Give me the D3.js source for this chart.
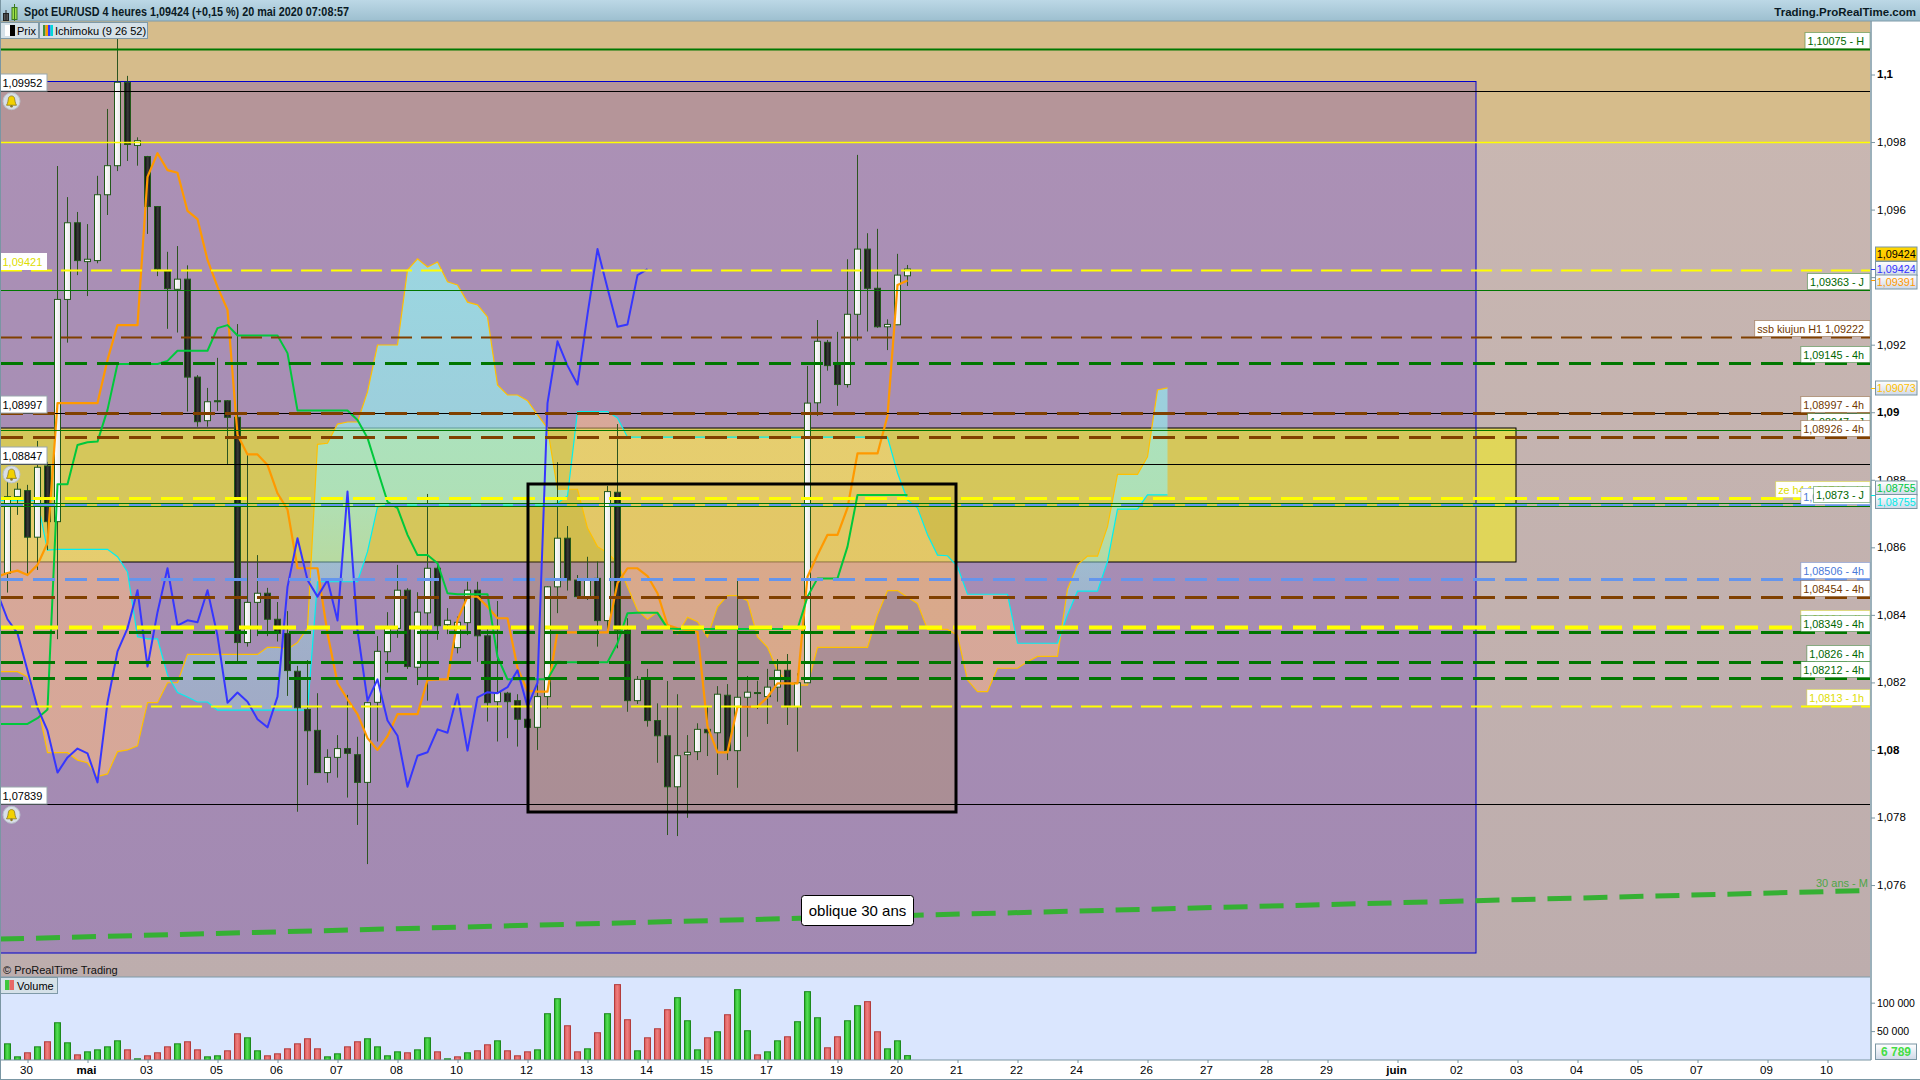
<!DOCTYPE html>
<html><head><meta charset="utf-8"><script src="https://cdn.jsdelivr.net/npm/d3@7"></script>
<style>html,body{margin:0;background:#fff}svg{display:block}text{font-family:"Liberation Sans",Arial,sans-serif}</style></head>
<body><svg id="c" width="1920" height="1080"></svg>
<script>
// all prices in 1/100000 units
const opens=[108523,108750,108768,108630,108841,108676,109334,109561,109446,109449,109644,109730,109977,109790,109757,109609,109418,109364,109394,109104,108975,109034,109034,108985,108318,108437,108464,108387,108345,108233,108120,108058,107933,107978,108004,107986,107904,108141,108291,108360,108473,108245,108406,108538,108371,108303,108377,108473,108338,108143,108168,108146,108091,108067,108158,108483,108627,108503,108454,108508,108383,108763,108355,108146,108209,108087,108042,107891,107986,107995,108061,108051,108162,107998,108156,108170,108158,108186,108236,108128,108199,109028,109207,109145,109082,109290,109483,109367,109253,109259,109404];
const closes=[108750,108772,108630,108837,108676,109334,109561,109449,109453,109644,109730,109977,109793,109804,109609,109424,109366,109394,109104,108972,109031,109032,108985,108318,108437,108464,108387,108345,108235,108125,108057,107933,107978,108004,107990,107904,108140,108292,108360,108473,108247,108408,108538,108368,108384,108378,108473,108338,108140,108170,108143,108091,108067,108158,108483,108627,108503,108454,108503,108383,108765,108355,108146,108209,108087,108042,107891,107983,107993,108061,108051,108165,107998,108156,108171,108168,108186,108236,108128,108199,109027,109210,109138,109082,109290,109483,109367,109253,109260,109406,109424];
const highs=[108793,108791,108785,108915,108853,109729,109637,109593,109557,109700,109898,110108,109996,109814,109759,109610,109475,109492,109435,109110,109072,109161,109036,109261,108873,108577,108480,108438,108411,108249,108266,108168,108002,108044,108163,108039,108142,108337,108408,108548,108479,108467,108758,108554,108420,108395,108498,108498,108367,108441,108172,108165,108118,108207,108485,108852,108663,108518,108572,108558,108782,108965,108390,108219,108240,108138,108204,108165,108044,108079,108128,108189,108195,108501,108219,108205,108240,108269,108284,108227,109137,109273,109214,109238,109453,109762,109530,109543,109275,109469,109436];
const lows=[108466,108696,108515,108533,108592,108328,109206,109406,109344,109441,109584,109714,109744,109730,109528,109403,109247,109236,109002,108957,108957,109004,108846,108261,108306,108337,108337,108321,108160,107817,107896,107932,107903,107918,107859,107778,107662,108025,108229,108332,108240,108192,108146,108326,108343,108286,108340,108261,108084,108025,108035,108010,108066,108000,108123,108405,108472,108453,108444,108306,108355,108301,108113,108136,108069,107962,107748,107745,107799,107970,107982,107926,107970,107888,108039,108121,108077,108143,108074,107995,108198,108989,109123,109019,109073,109212,109239,109250,109184,109258,109374];
// ichimoku series: first element is the bar just left of the first candle
const tenkan=[108513,108524,108531,108518,108548,108613,109027,109027,109027,109027,109027,109155,109258,109258,109258,109697,109767,109717,109709,109596,109572,109451,109371,109303,108933,108875,108875,108844,108760,108712,108538,108538,108538,108345,108198,108150,108106,108035,108000,108041,108106,108106,108106,108207,108209,108209,108385,108454,108454,108424,108390,108390,108243,108175,108173,108173,108350,108348,108348,108348,108348,108348,108494,108538,108538,108515,108464,108370,108360,108355,108350,108069,107993,107993,108128,108128,108128,108156,108197,108197,108197,108513,108577,108637,108637,108717,108878,108878,108878,108989,109377,109390];
const kijun=[108077,108077,108077,108077,108094,108120,108787,108787,108903,108911,108913,109007,109143,109143,109143,109143,109143,109152,109182,109182,109182,109182,109249,109258,109227,109227,109227,109227,109227,109175,109005,109005,109005,109005,109005,109005,108977,108924,108829,108735,108716,108637,108577,108577,108553,108464,108461,108461,108461,108461,108276,108209,108209,108209,108209,108209,108261,108260,108260,108260,108260,108260,108316,108405,108406,108406,108406,108360,108358,108358,108358,108358,108358,108358,108358,108358,108358,108358,108358,108358,108358,108454,108508,108508,108508,108602,108755,108755,108755,108755,108755,108755];
const chikou=[108464,108387,108345,108235,108125,108057,107933,107978,108004,107990,107904,108140,108292,108360,108473,108247,108408,108538,108368,108384,108378,108473,108338,108140,108170,108143,108091,108067,108158,108483,108627,108503,108454,108503,108383,108765,108355,108146,108209,108087,108042,107891,107983,107993,108061,108051,108165,107998,108156,108171,108168,108186,108236,108128,108199,109027,109210,109138,109082,109290,109483,109367,109253,109260,109406,109424];
const ssa=[108232,108232,108232,108217,108138,107992,107992,107992,107970,107962,107921,107929,107995,108000,108012,108140,108140,108199,108199,108283,108283,108283,108283,108283,108283,108283,108283,108304,108304,108298,108318,108361,108905,108908,108965,108971,108971,109060,109199,109199,109199,109421,109454,109430,109445,109386,109377,109326,109318,109282,109081,109051,109051,109034,108992,108953,108772,108772,108772,108657,108602,108584,108554,108483,108414,108387,108409,108370,108343,108393,108380,108335,108424,108457,108457,108442,108335,108304,108235,108197,108192,108192,108304,108304,108304,108304,108304,108304,108400,108472,108472,108452,108434,108357,108357,108357,108340,108207,108173,108173,108242,108242,108242,108261,108277,108277,108277,108476,108548,108574,108574,108661,108816,108816,108816,108868,109066,109072];
const ssb=[108738,108738,108738,108738,108738,108592,108594,108594,108594,108594,108594,108594,108572,108527,108335,108329,108329,108222,108170,108157,108142,108142,108118,108118,108118,108118,108118,108118,108118,108118,108118,108118,108498,108498,108498,108498,108498,108587,108720,108725,108725,108725,108725,108725,108725,108725,108725,108725,108725,108725,108725,108725,108725,108725,108725,108725,108731,108752,109002,109002,109002,109002,108983,108926,108926,108926,108926,108926,108926,108926,108926,108926,108926,108926,108926,108926,108926,108926,108926,108926,108926,108926,108926,108926,108926,108926,108926,108926,108926,108926,108820,108740,108716,108637,108577,108575,108543,108461,108461,108461,108461,108461,108316,108316,108316,108316,108316,108400,108470,108470,108470,108558,108713,108713,108713,108755,108755,108755];
const volumes=[27600,4700,11800,22300,31200,64700,29400,8200,13500,17000,22300,32900,17000,1200,6500,11800,22300,27600,31200,17000,4700,6500,15300,45300,38200,15300,6500,10000,18800,27600,36500,18800,4700,10000,22300,31200,36500,22300,6500,13500,11800,17000,38200,13500,1200,4700,11800,15300,25900,32900,15300,6500,13500,17000,80600,107000,59400,13500,18800,47100,80600,131800,70000,15300,38200,54100,87600,108800,68200,17000,38200,48800,78800,122900,50600,8200,13500,32900,40000,66500,119400,73500,20600,40000,68200,94700,101800,48800,18800,32900,6789];
const volumeUp=[1,1,0,1,0,1,1,0,1,1,1,1,0,1,0,0,0,1,0,0,1,1,0,0,1,1,0,0,0,0,0,0,1,1,0,0,1,1,1,1,0,1,1,0,1,0,1,0,0,1,0,0,0,1,1,1,0,0,1,0,1,0,0,1,0,0,0,1,1,1,0,1,0,1,1,0,1,1,0,1,1,1,0,0,1,1,0,0,1,1,1];
const priceTicks=[1.1,1.098,1.096,1.094,1.092,1.09,1.088,1.086,1.084,1.082,1.08,1.078,1.076];
const majorTicks=[1.1,1.09,1.08];
const dateLabels=["30","mai","03","05","06","07","08","10","12","13","14","15","17","19","20","21","22","24","26","27","28","29","juin","02","03","04","05","07","09","10"];
const dateBars=[2,8,14,21,27,33,39,45,52,58,64,70,76,83,89,95,101,107,114,120,126,132,139,145,151,157,163,169,176,182];
const volumeTicks=[50000,100000];
const levelValues=[1.09799,1.09952,1.08847,1.07839,1.08997,1.10075,1.09421,1.09363,1.09222,1.09145,1.08997,1.08947,1.08926,1.08746,1.08726,1.0873,1.08722,1.08506,1.08454,1.08364,1.08349,1.0826,1.08212,1.0813];
const levelKinds=["yellowThin","black","black","black","black","greenBold","yellowMid","greenThin","brownMid","greenDash","brownDash","greenThin","brownDash","yellowDash","blueDash","greenThin","greenThin","blueDash","brownDash","yellowBold","greenDash","greenDash","greenDash","yellowMid"];
const levelTexts=[null,null,null,null,null,"1,10075 - H",null,"1,09363 - J","ssb kiujun H1 1,09222","1,09145 - 4h","1,08997 - 4h","1,08947 - J","1,08926 - 4h","ze h4 1,08746 - H","1,08726 - 4h","1,0873 - J",null,"1,08506 - 4h","1,08454 - 4h","1,08364 - 4h","1,08349 - 4h","1,0826 - 4h","1,08212 - 4h","1,0813 - 1h"];
const leftValues=[1.09952,1.09421,1.08997,1.08847,1.07839];
const leftTexts=["1,09952","1,09421","1,08997","1,08847","1,07839"];
const bellValues=[1.09952,1.08847,1.07839];
const obliqueValues=[1.0744,1.07584]; // at the left edge and right edge of the panel
const rightValues=[1.09424,1.09424,1.09391,1.09073,1.08755,1.08755];
const rightTexts=["1,09424","1,09424","1,09391","1,09073","1,08755","1,08755"];

const kinds={yellowThin:{c:"#ffff00",w:1.5},black:{c:"#000",w:1},greenBold:{c:"#007700",w:2},greenThin:{c:"#007700",w:1},
 yellowMid:{c:"#ffff00",w:2,d:"21 9",t:"#dddd00"},brownMid:{c:"#804000",w:2,d:"21 9",t:"#703800"},greenDash:{c:"#007700",w:3,d:"22 10",t:"#006600"},
 brownDash:{c:"#804000",w:3,d:"22 10",t:"#703800"},yellowDash:{c:"#ffff00",w:3,d:"22 10",t:"#dddd00"},blueDash:{c:"#6495ed",w:3,d:"22 10",t:"#4a78d8"},
 yellowBold:{c:"#ffff00",w:4,d:"23 11",t:"#dddd00"}};

const W=1870,panelTop=21,panelBottom=977,volTop=977,volBottom=1060;
const x=d3.scaleLinear().domain([0,1]).range([7.5,17.5]);
const y=d3.scaleLinear().domain([1.1,1.078]).range([74.5,817.5]);
const P=v=>v/1e5;
const vy=d3.scaleLinear().domain([0,100000]).range([1059.5,1002.7]);
const svg=d3.select("#c");
const defs=svg.append("defs");
function grad(id,stops,horizontal,user){const g=defs.append("linearGradient").attr("id",id);
 if(horizontal){g.attr("x1",0).attr("x2",1).attr("y1",0).attr("y2",0)}else if(user){g.attr("gradientUnits","userSpaceOnUse").attr("x1",0).attr("x2",0).attr("y1",user[0]).attr("y2",user[1])}else{g.attr("x1",0).attr("x2",0).attr("y1",0).attr("y2",1)}
 stops.forEach(s=>g.append("stop").attr("offset",s[0]).attr("stop-color",s[1]).attr("stop-opacity",s[2]==null?1:s[2]));}
grad("bar",[[0,"#bcd8e6"],[1,"#9dbfcf"]]);
grad("base",[[0,"#cab8b2"],[1,"#bdadad"]]);
grad("blk",[[0,"#0a0a0a"],[.55,"#3c3c3c"],[1,"#111"]],true);
grad("wht",[[0,"#ffffff"],[1,"#e8e8e8"]],true);
grad("gvol",[[0,"#22aa22"],[.45,"#55e055"],[1,"#22b022"]],true);
grad("rvol",[[0,"#d85555"],[.45,"#f08080"],[1,"#d85555"]],true);
grad("lbl",[[0,"#ffffff"],[1,"#cfd9e8"]]);
grad("gold",[[0,"#ffd800"],[1,"#ffc400"]]);
grad("bluecloud",[[0,"#96f0f0",.72],[.45,"#96f0f0",.62],[.68,"#96f0f0",.42],[.85,"#96f0f0",.34],[1,"#96f0f0",.3]],false,[300,720]);
grad("pinkcloud",[[0,"#ffbe82",.55],[.0001,"#ffd78c",.4],[.9999,"#ffd78c",.4],[1,"#ffbe82",.55]],false,[428,562]);
defs.append("clipPath").attr("id","clip").append("rect").attr("x",0).attr("y",panelTop).attr("width",W).attr("height",panelBottom-panelTop);
const root=svg.append("g");

// panel backgrounds
root.append("rect").attr("x",0).attr("y",panelTop).attr("width",W).attr("height",panelBottom-panelTop).attr("fill","url(#base)");
root.append("rect").attr("x",0).attr("y",panelTop).attr("width",W).attr("height",y(1.09799)-panelTop).attr("fill","#d6bc8b");
const main=root.append("g").attr("clip-path","url(#clip)");
main.append("rect").attr("x",0).attr("y",81.5).attr("width",1476).attr("height",871.5).attr("fill","rgb(85,32,196)").attr("fill-opacity",.25);
main.append("rect").attr("x",-2).attr("y",428).attr("width",1518).attr("height",134).attr("fill","rgb(243,237,32)").attr("fill-opacity",.6);
main.append("rect").attr("x",-2).attr("y",428).attr("width",1518).attr("height",134).attr("fill","none").attr("stroke","#000").attr("stroke-width",1);
main.append("rect").attr("x",528).attr("y",484).attr("width",428).attr("height",328).attr("fill","rgb(196,155,30)").attr("fill-opacity",.2);
main.append("rect").attr("x",0).attr("y",81.5).attr("width",1476).attr("height",871.5).attr("fill","none").attr("stroke","#0000cc").attr("stroke-width",1);

// cloud, split at crossings
let pts=[];
ssa.forEach((a,i)=>{const b=ssb[i],k=i-1;pts.push({k,a,b});
 if(i<ssa.length-1){const d0=a-b,d1=ssa[i+1]-ssb[i+1];if(d0*d1<0){const t=d0/(d0-d1);pts.push({k:k+t,a:a+t*(ssa[i+1]-a),b:b+t*(ssb[i+1]-b)});}}});
const area=(f0,f1)=>d3.area().x(d=>x(d.k)).y0(d=>y(P(f0(d)))).y1(d=>y(P(f1(d))));
main.append("path").attr("d",area(d=>d.b,d=>Math.max(d.a,d.b))(pts)).attr("fill","url(#bluecloud)");
main.append("path").attr("d",area(d=>d.a,d=>Math.max(d.a,d.b))(pts)).attr("fill","url(#pinkcloud)");
const ln=arr=>d3.line().x((d,i)=>x(i-1)).y(d=>y(P(d)))(arr);
main.append("path").attr("d",ln(ssa)).attr("fill","none").attr("stroke","#ffc000").attr("stroke-width",1.2);
main.append("path").attr("d",ln(ssb)).attr("fill","none").attr("stroke","#00f0f0").attr("stroke-width",1.2);

// candles
const cg=main.append("g");
opens.forEach((o,i)=>{const c=closes[i],up=c>=o,cx=Math.floor(x(i))+.5;
 cg.append("line").attr("x1",cx).attr("x2",cx).attr("y1",y(P(highs[i]))).attr("y2",y(P(lows[i]))).attr("stroke","#2c5520").attr("stroke-width",1);
 const t=y(P(Math.max(o,c))),b=y(P(Math.min(o,c)));
 cg.append("rect").attr("x",cx-3).attr("y",t).attr("width",6).attr("height",Math.max(b-t,1)).attr("fill",up?"url(#wht)":"url(#blk)").attr("stroke","#22591a").attr("stroke-width",1);
});

// ichimoku lines
[[tenkan,"#ff9900",2.2],[kijun,"#00c83c",2],[chikou,"#3636ff",2]].forEach(s=>main.append("path").attr("d",ln(s[0])).attr("fill","none").attr("stroke",s[1]).attr("stroke-width",s[2]).attr("stroke-linejoin","round"));

// horizontal levels
levelValues.forEach((v,i)=>{const s=kinds[levelKinds[i]],yy=Math.round(y(v))+.5;
 main.append("line").attr("x1",1).attr("x2",W).attr("y1",yy).attr("y2",yy).attr("stroke",s.c).attr("stroke-width",s.w).attr("stroke-dasharray",s.d||null);});

// oblique
const ob=d3.scaleLinear().domain([0,1]).range([0,W]);
main.append("line").attr("x1",ob(0)).attr("x2",ob(1)).attr("y1",y(obliqueValues[0])).attr("y2",y(obliqueValues[1])).attr("stroke","#35b033").attr("stroke-width",5).attr("stroke-dasharray","24 12");
main.append("text").attr("x",1816).attr("y",887).attr("font-size",11).attr("fill","#4fa548").text("30 ans - M");
main.append("rect").attr("x",528).attr("y",484).attr("width",428).attr("height",328).attr("fill","none").attr("stroke","#000").attr("stroke-width",3);
root.append("rect").attr("x",801.5).attr("y",895.5).attr("width",112).attr("height",30).attr("rx",3).attr("fill","#fff").attr("stroke","#000");
root.append("text").attr("x",857.5).attr("y",915.5).attr("text-anchor","middle").attr("font-size",15).text("oblique 30 ans");

// level labels
levelTexts.forEach((t,i)=>{if(!t)return;const s=kinds[levelKinds[i]],c=s.t||"#006600",yb=Math.round(y(levelValues[i]));
 const g=root.append("g");const r=g.append("rect").attr("fill","#fff").attr("stroke",c).attr("stroke-opacity",.4);
 const tx=g.append("text").attr("font-size",10.8).attr("fill",c).text(t);const w=tx.node().getComputedTextLength();
 tx.attr("x",W-w-6).attr("y",yb-4);r.attr("x",W-w-8.5).attr("y",yb-16.5).attr("width",w+8.5).attr("height",16);});

// left labels
leftTexts.forEach((t,i)=>{const yb=Math.round(y(leftValues[i]));const g=root.append("g");
 g.append("rect").attr("x",0).attr("y",yb-17).attr("width",47).attr("height",17).attr("fill","#fff").attr("stroke","#9aa7ae").attr("stroke-width",t==="1,09421"?0:1);
 g.append("text").attr("x",2.5).attr("y",yb-4).attr("font-size",11).attr("fill",t==="1,09421"?"#dddd00":"#000").text(t);});
// bells
bellValues.forEach(v=>{const g=root.append("g").attr("transform",`translate(11.5,${y(v)+10.5})`);
 g.append("circle").attr("r",8.5).attr("fill","#d8dee6").attr("stroke","#b8c2cc");
 g.append("path").attr("d","M-5,4 C-3.5,2 -3.5,-1 -3,-3 C-2.5,-6 2.5,-6 3,-3 C3.5,-1 3.5,2 5,4 Z").attr("fill","#f2d100").attr("stroke","#8a7a20").attr("stroke-width",.8);
 g.append("circle").attr("cy",5).attr("r",1.3).attr("fill","#8a7a20");});

// title bar
root.append("rect").attr("x",0).attr("y",0).attr("width",1920).attr("height",21).attr("fill","url(#bar)");
root.append("line").attr("x1",0).attr("x2",1920).attr("y1",21).attr("y2",21).attr("stroke","#7f9aa8");
root.append("rect").attr("x",3.5).attr("y",13.5).attr("width",5).attr("height",7).attr("fill","#555").attr("stroke","#222");
root.append("rect").attr("x",12).attr("y",7.5).attr("width",5).attr("height",12).attr("fill","#9fe04a").attr("stroke","#3a7a20");
root.append("line").attr("x1",14.5).attr("x2",14.5).attr("y1",4).attr("y2",21).attr("stroke","#3a7a20");
root.append("line").attr("x1",6).attr("x2",6).attr("y1",10).attr("y2",21).attr("stroke","#222");
root.append("text").attr("x",24).attr("y",16).attr("font-size",12).attr("font-weight","bold").attr("fill","#0a1a24").attr("textLength",325).attr("lengthAdjust","spacingAndGlyphs").text("Spot EUR/USD 4 heures 1,09424 (+0,15 %) 20 mai 2020 07:08:57");
root.append("text").attr("x",1916).attr("y",16).attr("text-anchor","end").attr("font-size",11.5).attr("font-weight","bold").attr("fill","#0a1a24").text("Trading.ProRealTime.com");

// legends
function legend(lx,ly,w,h,txt,tx){root.append("rect").attr("x",lx+.5).attr("y",ly+.5).attr("width",w).attr("height",h).attr("fill","#d5e1e8").attr("stroke","#7f9aa8");
 root.append("text").attr("x",tx).attr("y",ly+13).attr("font-size",11).text(txt);}
legend(0,22,38,16,"Prix",17);legend(39,22,108,16,"Ichimoku (9 26 52)",55);
root.append("rect").attr("x",5).attr("y",25).attr("width",5).attr("height",11).attr("fill","#fff");
root.append("rect").attr("x",10).attr("y",25).attr("width",5).attr("height",11).attr("fill","#000");
["#3f8f3f","#ff9900","#3636ff","#00d8d8"].forEach((c,i)=>root.append("rect").attr("x",43+i*2.5).attr("y",25).attr("width",2.5).attr("height",11).attr("fill",c));

// volume panel
root.append("rect").attr("x",0).attr("y",volTop).attr("width",W).attr("height",volBottom-volTop).attr("fill","#dae6fe");
root.append("line").attr("x1",0).attr("x2",W).attr("y1",volTop).attr("y2",volTop).attr("stroke","#7f9aa8");
root.append("text").attr("x",3).attr("y",974).attr("font-size",11).attr("fill","#111").text("© ProRealTime Trading");
volumes.forEach((v,i)=>{const cx=Math.floor(x(i));
 root.append("rect").attr("x",cx-3+.5).attr("y",vy(v)).attr("width",6).attr("height",Math.max(volBottom-vy(v),1)).attr("fill",volumeUp[i]?"url(#gvol)":"url(#rvol)").attr("stroke",volumeUp[i]?"#1c8a1c":"#b33c3c").attr("stroke-width",1);});
legend(0,977,57,16,"Volume",17);
root.append("rect").attr("x",5).attr("y",980).attr("width",4.5).attr("height",10).attr("fill","#3cc83c");
root.append("rect").attr("x",9.5).attr("y",980).attr("width",4.5).attr("height",10).attr("fill","#e86868");

// axes
const frame="#7a96a3";
root.append("rect").attr("x",0).attr("y",volBottom).attr("width",1920).attr("height",20).attr("fill","#fff");
root.append("line").attr("x1",0).attr("x2",W+1).attr("y1",volBottom).attr("y2",volBottom).attr("stroke",frame);
root.append("line").attr("x1",0).attr("x2",1920).attr("y1",1079.5).attr("y2",1079.5).attr("stroke",frame);
root.append("line").attr("x1",.5).attr("x2",.5).attr("y1",0).attr("y2",1080).attr("stroke",frame);
root.append("line").attr("x1",W+1).attr("x2",W+1).attr("y1",panelTop).attr("y2",volBottom).attr("stroke",frame).attr("stroke-width",1.5);

const frFmt=d=>String(+d.toFixed(3)).replace(".",",");
const ya=d3.axisRight(y).tickValues(priceTicks).tickFormat(frFmt).tickSize(4).tickPadding(2);
const yg=root.append("g").attr("transform",`translate(${W+1},0)`).call(ya);
yg.select(".domain").remove();yg.selectAll("line").attr("stroke",frame);
yg.selectAll("text").attr("font-size",11.5).attr("fill","#000").attr("font-family","Liberation Sans").attr("font-weight",d=>majorTicks.includes(d)?"bold":"normal").attr("y",-.5).attr("dy",".34em");
const xa=d3.axisBottom(d3.scaleLinear().domain([0,1]).range([7.5,17.5])).tickValues(dateBars).tickFormat((d,i)=>dateLabels[i]).tickSize(3).tickPadding(2);
const xg=root.append("g").attr("transform",`translate(0,${volBottom})`).call(xa);
xg.select(".domain").remove();xg.selectAll("line").attr("stroke",frame);
xg.selectAll("text").attr("font-size",11.5).attr("fill","#000").attr("font-family","Liberation Sans").attr("font-weight",(d,i)=>/[a-z]/.test(dateLabels[i])?"bold":"normal").attr("dx",-1.5).attr("y",6);
const va=d3.axisRight(vy).tickValues(volumeTicks).tickFormat(d=>d3.format(",")(d).replace(",", " ")).tickSize(4).tickPadding(2);
const vg=root.append("g").attr("transform",`translate(${W+1},0)`).call(va);
vg.select(".domain").remove();vg.selectAll("line").attr("stroke",frame);
vg.selectAll("text").attr("font-size",10.5).attr("fill","#000").attr("font-family","Liberation Sans");

// right value boxes
const rightBox=[[1875.5,247,"#000","url(#gold)"],[1875.5,261.5,"#3333ff","url(#lbl)"],[1875.5,275,"#ff9900","url(#lbl)"],[1875.5,381,"#ffc000","url(#lbl)"],[1875.5,481,"#00c83c","url(#lbl)"],[1875.5,494.5,"#00e8e8","url(#lbl)"]];
rightTexts.forEach((t,i)=>{const b=rightBox[i];root.append("rect").attr("x",b[0]).attr("y",b[1]).attr("width",41.5).attr("height",14).attr("fill",b[3]).attr("stroke",frame);
 root.append("line").attr("x1",W+1).attr("x2",1875).attr("y1",Math.round(y(rightValues[i]))+.5).attr("y2",Math.round(y(rightValues[i]))+.5).attr("stroke",b[2]);
 root.append("text").attr("x",1896.2).attr("y",b[1]+11).attr("text-anchor","middle").attr("font-size",10.8).attr("fill",b[2]).text(t);});
root.append("rect").attr("x",1875.5).attr("y",1044).attr("width",41).attr("height",15.5).attr("fill","url(#lbl)").attr("stroke",frame);
root.append("text").attr("x",1896).attr("y",1056).attr("text-anchor","middle").attr("font-size",12).attr("font-weight","bold").attr("fill","#44dd44").text("6 789");
</script></body></html>
